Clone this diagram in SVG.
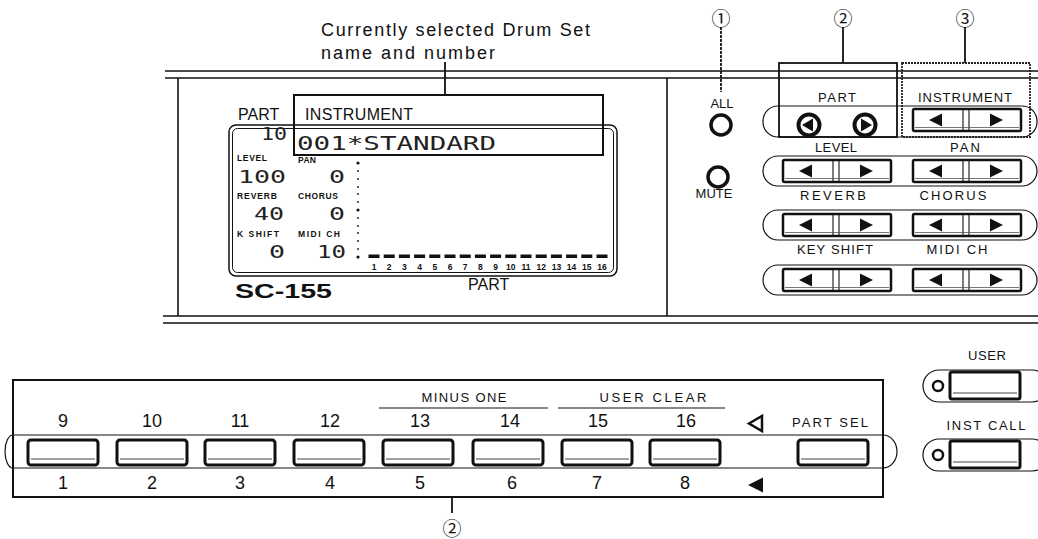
<svg xmlns="http://www.w3.org/2000/svg" xmlns:xlink="http://www.w3.org/1999/xlink" width="1038" height="539" viewBox="0 0 1038 539">
<style>
text{font-family:"Liberation Sans",Arial,sans-serif;fill:#111}
.lcd{font-family:"DejaVu Sans Mono","Liberation Mono",monospace;fill:#222}
.ln{stroke:#111;fill:none;stroke-width:1.6}
.thin{stroke:#111;fill:none;stroke-width:1.2}
.cap{stroke:#111;fill:none;stroke-width:1.2}
.lbl{font-size:13px}
.sm{font-size:8.5px;font-weight:bold}
.num{font-size:18px}
.tiny{font-size:8.5px;font-weight:bold}
.circ{font-family:"Noto Sans CJK JP","DejaVu Sans",sans-serif;font-size:19px}
.fill{fill:#111}
</style>
<defs>
<g id="pair">
<rect x="0" y="0" width="108" height="22" rx="1.5" fill="#fff" stroke="#111" stroke-width="2.5"/>
<line x1="50" y1="1" x2="50" y2="21" stroke="#111" stroke-width="1.1"/>
<line x1="56" y1="1" x2="56" y2="21" stroke="#111" stroke-width="1.1"/>
<line x1="2" y1="18.5" x2="106" y2="18.5" stroke="#555" stroke-width="0.8"/>
<path d="M16,11 L29,4.5 L29,17.5 Z" fill="#111"/>
<path d="M90,11 L77,4.5 L77,17.5 Z" fill="#111"/>
</g>
<g id="key">
<rect x="0" y="0" width="70" height="25" rx="3" fill="#fff" stroke="#111" stroke-width="3"/>
<line x1="3" y1="19" x2="67" y2="19" stroke="#444" stroke-width="1"/>
</g>
<g id="ukey">
<rect x="0" y="0" width="70" height="27" rx="2" fill="#fff" stroke="#111" stroke-width="3"/>
<line x1="3" y1="21" x2="67" y2="21" stroke="#444" stroke-width="1"/>
</g>
</defs>
<rect width="1038" height="539" fill="#fff"/>

<!-- panel frame -->
<g id="panel">
<line class="ln" x1="165" y1="71" x2="1038" y2="71"/>
<line class="ln" x1="165" y1="78" x2="1038" y2="78"/>
<line class="ln" x1="163" y1="316" x2="1038" y2="316"/>
<line class="ln" x1="163" y1="323" x2="1038" y2="323"/>
<line class="ln" x1="178" y1="78" x2="178" y2="316"/>
<line class="ln" x1="667" y1="78" x2="667" y2="316"/>
</g>

<!-- annotation text -->
<g id="note">
<text x="321" y="36" font-size="18" textLength="269" lengthAdjust="spacing">Currently selected Drum Set</text>
<text x="321" y="59" font-size="18" textLength="174" lengthAdjust="spacing">name and number</text>
</g>

<!-- LCD display -->
<g id="lcd">
<rect x="229" y="125" width="388" height="151" rx="7" fill="none" stroke="#111" stroke-width="1.5"/>
<rect x="232.5" y="128.5" width="381" height="144" rx="5" fill="none" stroke="#111" stroke-width="1"/>
<text x="238" y="120" font-size="16">PART</text>
<text x="305" y="120" font-size="16" textLength="108">INSTRUMENT</text>
<text class="lcd" x="261" y="140" font-size="18" textLength="26" lengthAdjust="spacingAndGlyphs">10</text>
<text class="lcd" x="297" y="150" font-size="20" textLength="199" lengthAdjust="spacingAndGlyphs">001*STANDARD</text>
<text class="sm" x="237" y="161" textLength="30">LEVEL</text>
<text class="sm" x="298" y="163" textLength="18">PAN</text>
<text class="lcd" x="238" y="183" font-size="18" textLength="48" lengthAdjust="spacingAndGlyphs">100</text>
<text class="lcd" x="329" y="183" font-size="18" textLength="16" lengthAdjust="spacingAndGlyphs">0</text>
<text class="sm" x="237" y="199" textLength="40">REVERB</text>
<text class="sm" x="298" y="199" textLength="40">CHORUS</text>
<text class="lcd" x="254" y="220" font-size="18" textLength="30" lengthAdjust="spacingAndGlyphs">40</text>
<text class="lcd" x="329" y="220" font-size="18" textLength="16" lengthAdjust="spacingAndGlyphs">0</text>
<text class="sm" x="237" y="237" textLength="42">K SHIFT</text>
<text class="sm" x="298" y="237" textLength="42">MIDI CH</text>
<text class="lcd" x="269" y="258" font-size="18" textLength="16" lengthAdjust="spacingAndGlyphs">0</text>
<text class="lcd" x="317" y="258" font-size="18" textLength="29" lengthAdjust="spacingAndGlyphs">10</text>
<g class="fill">
<circle cx="358" cy="163" r="1.6"/><circle cx="358" cy="171" r="0.9"/><circle cx="358" cy="179" r="0.9"/><circle cx="358" cy="187" r="0.9"/><circle cx="358" cy="194" r="0.9"/><circle cx="358" cy="202" r="0.9"/><circle cx="358" cy="210" r="1.6"/><circle cx="358" cy="218" r="0.9"/><circle cx="358" cy="226" r="0.9"/><circle cx="358" cy="233" r="0.9"/><circle cx="358" cy="241" r="0.9"/><circle cx="358" cy="249" r="0.9"/><circle cx="358" cy="257" r="1.6"/>
</g>
<g class="fill">
<rect x="368.5" y="254.5" width="11" height="3.5"/><rect x="383.7" y="254.5" width="11" height="3.5"/><rect x="398.9" y="254.5" width="11" height="3.5"/><rect x="414.1" y="254.5" width="11" height="3.5"/><rect x="429.3" y="254.5" width="11" height="3.5"/><rect x="444.5" y="254.5" width="11" height="3.5"/><rect x="459.7" y="254.5" width="11" height="3.5"/><rect x="474.9" y="254.5" width="11" height="3.5"/><rect x="490.1" y="254.5" width="11" height="3.5"/><rect x="505.3" y="254.5" width="11" height="3.5"/><rect x="520.5" y="254.5" width="11" height="3.5"/><rect x="535.7" y="254.5" width="11" height="3.5"/><rect x="550.9" y="254.5" width="11" height="3.5"/><rect x="566.1" y="254.5" width="11" height="3.5"/><rect x="581.3" y="254.5" width="11" height="3.5"/><rect x="596.5" y="254.5" width="11" height="3.5"/>
</g>
<g class="tiny" text-anchor="middle">
<text x="374" y="270">1</text><text x="389.2" y="270">2</text><text x="404.4" y="270">3</text><text x="419.6" y="270">4</text><text x="434.8" y="270">5</text><text x="450" y="270">6</text><text x="465.2" y="270">7</text><text x="480.4" y="270">8</text><text x="495.6" y="270">9</text><text x="510.8" y="270">10</text><text x="526" y="270">11</text><text x="541.2" y="270">12</text><text x="556.4" y="270">13</text><text x="571.6" y="270">14</text><text x="586.8" y="270">15</text><text x="602" y="270">16</text>
</g>
<text x="235" y="298" font-size="21" font-weight="bold" textLength="97" lengthAdjust="spacingAndGlyphs">SC-155</text>
<text x="468" y="290" font-size="16">PART</text>
<rect x="294" y="95" width="309" height="60" fill="none" stroke="#111" stroke-width="2"/>
</g>

<!-- ALL / MUTE -->
<g id="all">
<text x="722" y="108" font-size="13" text-anchor="middle">ALL</text>
<circle cx="721" cy="125" r="10" fill="none" stroke="#111" stroke-width="3.5"/>
</g>
<g id="mute">
<circle cx="718" cy="177" r="10" fill="none" stroke="#111" stroke-width="3.5"/>
<text x="714" y="198" font-size="13" text-anchor="middle">MUTE</text>
</g>

<!-- right button rows -->
<g id="row-part-instrument">
<rect class="cap" x="763" y="106" width="274" height="31" rx="15"/>
<text class="lbl" x="837" y="102" text-anchor="middle" textLength="38">PART</text>
<text class="lbl" x="965" y="102" text-anchor="middle" textLength="94">INSTRUMENT</text>
<circle cx="809" cy="125" r="10.5" fill="#fff" stroke="#111" stroke-width="4"/>
<path d="M802,125 L813,118.5 L813,131.5 Z" fill="#111"/>
<circle cx="865" cy="125" r="10.5" fill="#fff" stroke="#111" stroke-width="4"/>
<path d="M872,125 L861,118.5 L861,131.5 Z" fill="#111"/>
<use xlink:href="#pair" x="913" y="109"/>
</g>
<g id="row-level-pan">
<text class="lbl" x="836" y="152" text-anchor="middle" textLength="42">LEVEL</text>
<text class="lbl" x="965" y="152" text-anchor="middle" textLength="30">PAN</text>
<rect class="cap" x="763" y="156" width="274" height="30" rx="15"/>
<use xlink:href="#pair" x="783" y="160"/>
<use xlink:href="#pair" x="913" y="160"/>
</g>
<g id="row-reverb-chorus">
<text class="lbl" x="833" y="200" text-anchor="middle" textLength="66">REVERB</text>
<text class="lbl" x="953" y="200" text-anchor="middle" textLength="67">CHORUS</text>
<rect class="cap" x="763" y="210" width="274" height="30" rx="15"/>
<use xlink:href="#pair" x="783" y="214"/>
<use xlink:href="#pair" x="913" y="214"/>
</g>
<g id="row-keyshift-midich">
<text class="lbl" x="835" y="254" text-anchor="middle" textLength="76">KEY SHIFT</text>
<text class="lbl" x="957" y="254" text-anchor="middle" textLength="61">MIDI CH</text>
<rect class="cap" x="763" y="265" width="274" height="30" rx="15"/>
<use xlink:href="#pair" x="783" y="269"/>
<use xlink:href="#pair" x="913" y="269"/>
</g>

<!-- callout boxes -->
<g id="callout-1">
<text class="circ" x="721" y="17" text-anchor="middle" dominant-baseline="central">①</text>
</g>
<g id="callout-2">
<text class="circ" x="843" y="17" text-anchor="middle" dominant-baseline="central">②</text>
<rect x="779" y="63" width="118" height="74" fill="none" stroke="#111" stroke-width="1.8"/>
</g>
<g id="callout-3">
<text class="circ" x="965" y="17" text-anchor="middle" dominant-baseline="central">③</text>
<rect x="902" y="63" width="128" height="74" fill="none" stroke="#222" stroke-width="1.8" stroke-dasharray="2 1"/>
</g>

<!-- part select keyboard -->
<g id="part-keys">
<rect x="13" y="380" width="870" height="117" fill="none" stroke="#111" stroke-width="2"/>
<line class="thin" x1="13" y1="435" x2="883" y2="435"/>
<line class="thin" x1="13" y1="468" x2="883" y2="468"/>
<path class="thin" d="M13,435 A8 16.5 0 0 0 13,468"/>
<path class="thin" d="M883,435 A14 16.5 0 0 1 883,468"/>
<text class="lbl" x="464" y="402" text-anchor="middle" textLength="85">MINUS ONE</text>
<line class="thin" x1="379" y1="408" x2="548" y2="408"/>
<text class="lbl" x="653" y="402" text-anchor="middle" textLength="107">USER CLEAR</text>
<line class="thin" x1="558" y1="408" x2="725" y2="408"/>
<g class="num" text-anchor="middle">
<text x="63" y="427">9</text><text x="152" y="427">10</text><text x="240" y="427">11</text><text x="330" y="427">12</text><text x="420" y="427">13</text><text x="510" y="427">14</text><text x="598" y="427">15</text><text x="686" y="427">16</text>
<text x="63" y="489">1</text><text x="152" y="489">2</text><text x="240" y="489">3</text><text x="330" y="489">4</text><text x="420" y="489">5</text><text x="512" y="489">6</text><text x="597" y="489">7</text><text x="685" y="489">8</text>
</g>
<use xlink:href="#key" x="28" y="440"/>
<use xlink:href="#key" x="117" y="440"/>
<use xlink:href="#key" x="205" y="440"/>
<use xlink:href="#key" x="294" y="440"/>
<use xlink:href="#key" x="383" y="440"/>
<use xlink:href="#key" x="473" y="440"/>
<use xlink:href="#key" x="562" y="440"/>
<use xlink:href="#key" x="650" y="440"/>
<path d="M749,423.5 L762,416 L762,431 Z" fill="none" stroke="#111" stroke-width="2.5" stroke-linejoin="miter"/>
<path d="M748,485 L763,477.5 L763,492.5 Z" fill="#111"/>
<text class="lbl" x="830" y="427" text-anchor="middle" textLength="76">PART SEL</text>
<use xlink:href="#key" x="798" y="440"/>
</g>

<!-- USER / INST CALL -->
<g id="user">
<text class="lbl" x="987" y="360" text-anchor="middle" textLength="38">USER</text>
<rect class="cap" x="923" y="370" width="125" height="32" rx="16"/>
<circle cx="938" cy="386" r="5" fill="none" stroke="#111" stroke-width="2.5"/>
<use xlink:href="#ukey" x="950" y="372"/>
</g>
<g id="inst-call">
<text class="lbl" x="986" y="430" text-anchor="middle" textLength="79">INST CALL</text>
<rect class="cap" x="923" y="439" width="125" height="32" rx="16"/>
<circle cx="938" cy="455" r="5" fill="none" stroke="#111" stroke-width="2.5"/>
<use xlink:href="#ukey" x="950" y="441"/>
</g>
<g id="callout-2b">
<text class="circ" x="452" y="527" text-anchor="middle" dominant-baseline="central">②</text>
</g>

<!-- connectors -->
<g id="connectors" stroke="#111" stroke-width="1.8" fill="none">
<line x1="445" y1="62" x2="445" y2="95"/>
<line x1="721" y1="27" x2="721" y2="92" stroke-dasharray="3 1"/>
<line x1="843" y1="27" x2="843" y2="63"/>
<line x1="965" y1="27" x2="965" y2="63"/>
<line x1="452" y1="497" x2="452" y2="513"/>
</g>
</svg>
